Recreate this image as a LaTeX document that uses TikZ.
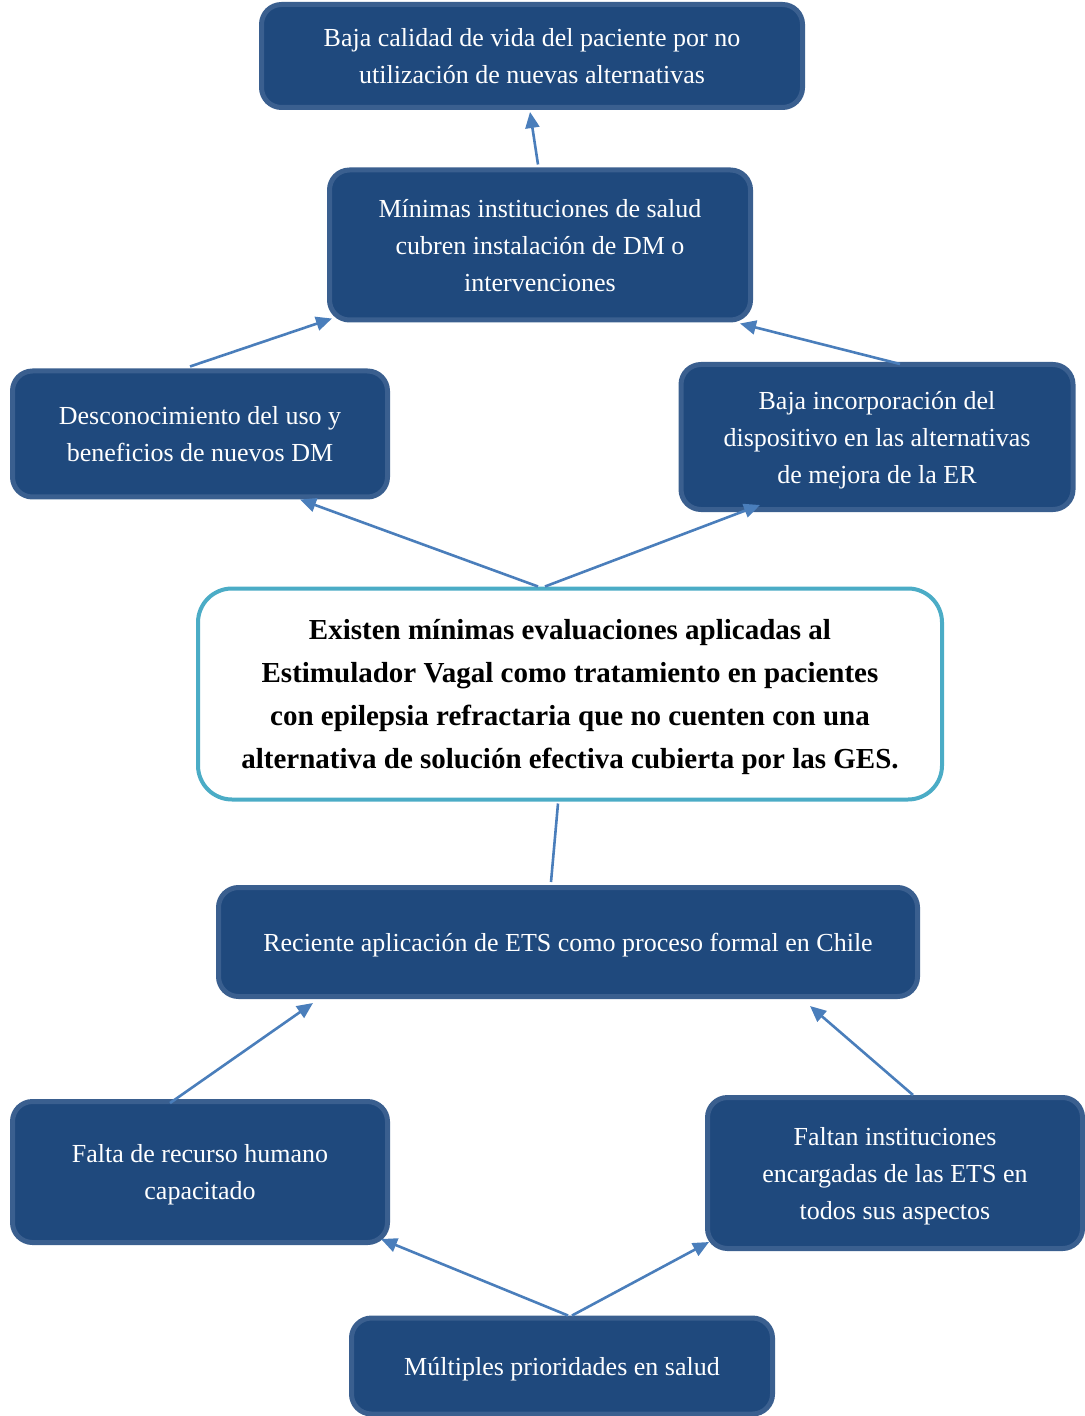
\documentclass[tikz,border=0pt]{standalone}
\usepackage{fontspec}
\setmainfont{Liberation Serif}
\usepackage{tikz}
\usetikzlibrary{arrows.meta, calc, positioning}
\definecolor{boxblue}{HTML}{1F497D}
\definecolor{boxedge}{HTML}{3A5F8F}
\definecolor{arrowblue}{HTML}{4A7EBB}
\definecolor{problemedge}{HTML}{4BACC6}
\tikzstyle{cause} = [rectangle, rounded corners=10pt, fill=boxblue, draw=boxedge, line width=2.5pt, text=white, align=center, text depth=0pt, font=\fontsize{13}{18.5}\selectfont]
\tikzstyle{problem} = [rectangle, rounded corners=17pt, fill=white, draw=problemedge, line width=2pt, text=black, align=center, text depth=0pt, font=\fontsize{14.5}{21.5}\selectfont\bfseries]
\tikzstyle{arrow} = [line width=1.3pt, draw=arrowblue, -{Triangle[length=8pt, width=7pt]}]
\tikzstyle{link} = [line width=1.3pt, draw=arrowblue]

\begin{document}
\begin{tikzpicture}[x=0.5pt, y=-0.5pt]
		\useasboundingbox (0,0) rectangle (1084,1416);
		\node (Calidad) [cause, minimum width=270.5pt, minimum height=51.5pt] at (532,56) {Baja calidad de vida del paciente por no\\utilización de nuevas alternativas};
		\node (Instituciones) [cause, minimum width=210.5pt, minimum height=75pt] at (540,245) {Mínimas instituciones de salud\\cubren instalación de DM o\\intervenciones};
		\node (Desconocimiento) [cause, minimum width=187.5pt, minimum height=63pt] at (200,434) {Desconocimiento del uso y\\beneficios de nuevos DM};
		\node (Incorporacion) [cause, minimum width=196pt, minimum height=72.5pt] at (877,437) {Baja incorporación del\\dispositivo en las alternativas\\de mejora de la ER};
		\node (Problema) [problem, minimum width=372pt, minimum height=105.5pt] at (570,694) {Existen mínimas evaluaciones aplicadas al\\Estimulador Vagal como tratamiento en pacientes\\con epilepsia refractaria que no cuenten con una\\alternativa de solución efectiva cubierta por las GES.};
		\node (ETS) [cause, minimum width=349.5pt, minimum height=54.5pt] at (568,942) {Reciente aplicación de ETS como proceso formal en Chile};
		\node (Recurso) [cause, minimum width=187.5pt, minimum height=70.5pt] at (200,1172) {Falta de recurso humano\\capacitado};
		\node (Encargadas) [cause, minimum width=187.5pt, minimum height=75.5pt] at (895,1173) {Faltan instituciones\\encargadas de las ETS en\\todos sus aspectos};
		\node (Prioridades) [cause, minimum width=210.5pt, minimum height=48pt] at (562,1366) {Múltiples prioridades en salud};
		% effects
		\draw [arrow] ($(Instituciones.north)+(-2,-3)$) -- ($(Calidad.south)+(-2,2)$);
		\draw [arrow] ($(Desconocimiento.north)+(-10,-2)$) -- ($(Instituciones.south west)+(5,-4)$);
		\draw [arrow] ($(Incorporacion.north)+(23,2)$) -- ($(Instituciones.south east)+(-13,1)$);
		\draw [arrow] ($(Problema.north)+(-32,0)$) -- ($(Desconocimiento.south)+(100,0)$);
		\draw [arrow] ($(Problema.north)+(-25,0)$) -- ($(Incorporacion.south)+(-117,-7)$);
		% causes
		\draw [link] ($(ETS.north)+(-17,-3)$) -- ($(Problema.south)+(-12,2)$);
		\draw [arrow] ($(Recurso.north)+(-30,4)$) -- ($(ETS.south west)+(97,4)$);
		\draw [arrow] ($(Encargadas.north)+(18,0)$) -- ($(ETS.south east)+(-110,7)$);
		\draw [arrow] ($(Prioridades.north)+(6,0)$) -- ($(Recurso.south east)+(-9,-6)$);
		\draw [arrow] ($(Prioridades.north)+(10,0)$) -- ($(Encargadas.south west)+(4,-9)$);
\end{tikzpicture}
\end{document}
